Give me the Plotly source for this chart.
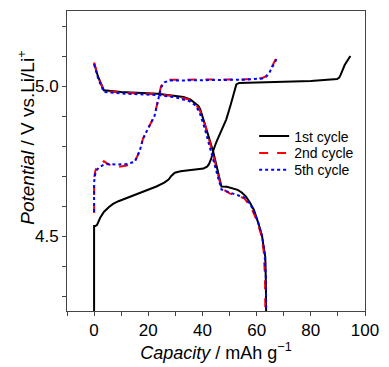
import plotly.graph_objects as go

# 1st cycle
c1_chg_x = [0, 0, 0.5, 1.1, 2.2, 3.6, 5.4, 7, 9, 12.6, 15.5, 18, 20.5, 23, 25.9, 27.5, 28.5, 29.8, 31.9, 36, 40.4, 41.8, 42.5, 43.3, 44, 45.2, 46.4, 47.6, 48.8, 50.5, 52.5, 53.5, 60, 71.7, 80, 89.7, 90.5, 91, 92.5, 94.6]
c1_chg_y = [4.25, 4.533, 4.533, 4.537, 4.56, 4.58, 4.596, 4.607, 4.616, 4.629, 4.638, 4.646, 4.655, 4.665, 4.678, 4.688, 4.70, 4.711, 4.716, 4.72, 4.725, 4.732, 4.741, 4.76, 4.785, 4.815, 4.84, 4.86, 4.889, 4.94, 5.005, 5.01, 5.012, 5.015, 5.017, 5.023, 5.028, 5.037, 5.07, 5.10]
c1_dis_x = [0, 1.5, 3.6, 10, 23.5, 30, 33, 35.5, 37.5, 38.5, 39.2, 40.4, 42, 44, 45.5, 46.4, 47, 49, 51.2, 53, 54.5, 56, 57.5, 59, 60.8, 62, 62.6, 63.2, 63.4, 63.5]
c1_dis_y = [5.076, 5.03, 4.986, 4.98, 4.974, 4.968, 4.963, 4.955, 4.943, 4.934, 4.922, 4.889, 4.84, 4.78, 4.72, 4.685, 4.665, 4.664, 4.659, 4.654, 4.645, 4.632, 4.612, 4.587, 4.538, 4.50, 4.462, 4.43, 4.35, 4.25]

# 2nd cycle
c2_chg_x = [0, 0, 0.4, 0.8, 2, 3.6, 5.5, 8.4, 12, 15, 16.9, 18, 20, 22.3, 24.7, 26, 27.7, 35, 47.6, 55, 62, 63.5, 64.4, 66, 67.5]
c2_chg_y = [4.577, 4.692, 4.715, 4.725, 4.74, 4.749, 4.738, 4.73, 4.735, 4.747, 4.785, 4.823, 4.86, 4.90, 4.999, 5.014, 5.021, 5.021, 5.021, 5.022, 5.026, 5.033, 5.043, 5.07, 5.097]
c2_dis_x = [0, 1.5, 3.6, 10, 23.5, 30, 35, 37.5, 39.2, 41, 44, 46, 47, 50, 53, 55.4, 57.8, 60.2, 61.8, 62.6, 63.1, 63.2]
c2_dis_y = [5.078, 5.03, 4.983, 4.978, 4.972, 4.966, 4.955, 4.94, 4.915, 4.87, 4.77, 4.70, 4.659, 4.642, 4.634, 4.626, 4.599, 4.549, 4.50, 4.45, 4.36, 4.25]

# 5th cycle
c5_chg_x = [0, 0, 0.4, 0.8, 2, 3.6, 5.5, 8.4, 12, 15, 16.9, 18, 20, 22.3, 24.7, 26, 27.7, 35, 47.6, 55, 62, 63.6, 64.6, 66.3, 67.8]
c5_chg_y = [4.58, 4.68, 4.705, 4.718, 4.73, 4.738, 4.74, 4.738, 4.74, 4.747, 4.785, 4.823, 4.86, 4.90, 4.995, 5.012, 5.018, 5.019, 5.02, 5.021, 5.025, 5.032, 5.043, 5.07, 5.097]
c5_dis_x = [0, 1.5, 3.6, 10, 23.5, 30, 35, 37.5, 39, 40.8, 43.8, 46, 47, 50, 53, 55.6, 58, 60.4, 62, 62.9, 63.4, 63.5]
c5_dis_y = [5.072, 5.025, 4.98, 4.975, 4.97, 4.962, 4.95, 4.935, 4.91, 4.86, 4.76, 4.69, 4.655, 4.645, 4.636, 4.628, 4.60, 4.55, 4.50, 4.45, 4.36, 4.25]

series = [
    ("1st cycle", c1_chg_x, c1_chg_y, c1_dis_x, c1_dis_y, "black", "solid", "legend"),
    ("2nd cycle", c2_chg_x, c2_chg_y, c2_dis_x, c2_dis_y, "#ff0000", "dash", "legend2"),
    ("5th cycle", c5_chg_x, c5_chg_y, c5_dis_x, c5_dis_y, "#0000ff", "dot", "legend3"),
]

fig = go.Figure()
for name, cx, cy, dx, dy, col, dash, leg in series:
    fig.add_trace(go.Scatter(x=cx, y=cy, mode="lines", name=name, legend=leg,
                             line=dict(color=col, width=2, dash=dash)))
    fig.add_trace(go.Scatter(x=dx, y=dy, mode="lines", name=name, showlegend=False, legend=leg,
                             line=dict(color=col, width=2, dash=dash)))

axis_common = dict(showline=True, linecolor="#444", linewidth=1, mirror=True,
                   showgrid=False, zeroline=False, ticks="outside", ticklen=4,
                   tickcolor="#444", tickfont=dict(size=17, color="black"))

legend_style = dict(x=0.628, xanchor="left", yanchor="top", bgcolor="rgba(0,0,0,0)",
                    font=dict(size=14), itemwidth=30)

fig.update_layout(
    width=389, height=367,
    margin=dict(l=67, r=17, t=10, b=53),
    paper_bgcolor="white", plot_bgcolor="white",
    font=dict(family="Liberation Sans, Arial", color="black"),
    showlegend=True,
    legend=dict(y=0.635, **legend_style),
    legend2=dict(y=0.579, **legend_style),
    legend3=dict(y=0.523, **legend_style),
    xaxis=dict(range=[-10, 100], dtick=20, tick0=0,
               minor=dict(dtick=10, ticks="outside", ticklen=4, tickcolor="#444"),
               title=dict(text="<i>Capacity</i> / mAh g<sup>−1</sup>", font=dict(size=18), standoff=4),
               **axis_common),
    yaxis=dict(range=[4.25, 5.25], dtick=0.5, tick0=4.5, tickformat=".1f",
               minor=dict(dtick=0.1, ticks="outside", ticklen=4, tickcolor="#444"),
               **axis_common),
    annotations=[dict(text="<i>Potential</i> / V vs.Li/Li<sup>+</sup>", textangle=-90,
                      xref="paper", yref="paper", x=-0.136, y=0.579,
                      xanchor="center", yanchor="middle", showarrow=False,
                      font=dict(size=19))],
)

fig.write_html("out.html")
